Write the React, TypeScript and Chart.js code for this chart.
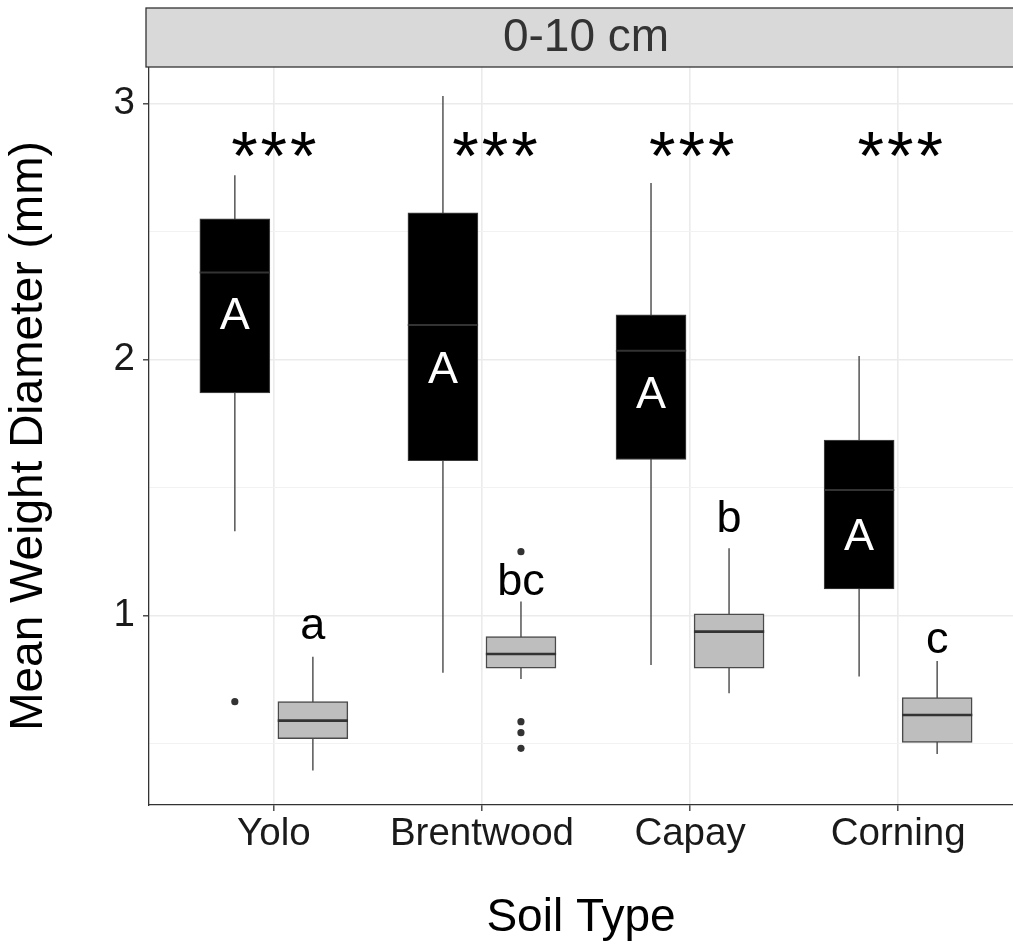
import React, { useEffect, useRef } from 'react';
import { Chart, registerables } from 'chart.js';

Chart.register(...registerables);

// ---------- data ----------
const categories = ['Yolo', 'Brentwood', 'Capay', 'Corning'];

// first group (black boxes)
const darkLow = [1.33, 0.777, 0.807, 0.762];
const darkQ1 = [1.87, 1.605, 1.61, 1.104];
const darkMedian = [2.34, 2.135, 2.035, 1.491];
const darkQ3 = [2.55, 2.573, 2.175, 1.686];
const darkHigh = [2.72, 3.03, 2.69, 2.014];
const darkOutliers = [[0.664], [], [], []];

// second group (grey boxes)
const grayLow = [0.395, 0.753, 0.697, 0.46];
const grayQ1 = [0.52, 0.795, 0.795, 0.505];
const grayMedian = [0.59, 0.85, 0.9375, 0.612];
const grayQ3 = [0.664, 0.918, 1.007, 0.68];
const grayHigh = [0.84, 1.055, 1.263, 0.823];
const grayOutliers = [[], [1.25, 0.586, 0.543, 0.482], [], []];

// text annotations (value = baseline position on y scale)
const darkLetters = ['A', 'A', 'A', 'A'];
const darkLetterY = [2.12, 1.909, 1.811, 1.257];
const grayLetters = ['a', 'bc', 'b', 'c'];
const grayLetterY = [0.909, 1.081, 1.328, 0.854];
const starLabels = ['***', '***', '***', '***'];
const starX = [1.0, 2.063, 3.008, 4.01];
const starY = [2.706, 2.706, 2.706, 2.706];

const yGridValues = [0.5, 1, 1.5, 2, 2.5, 3];
const stripLabel = '0-10 cm';
const xTitle = 'Soil Type';
const yTitle = 'Mean Weight Diameter (mm)';

// ---------- layout / style constants ----------
const W = 1013;
const H = 946;
const DODGE = 0.1875;
const HALF_BOX = 0.16875;
const X_MIN = 0.4;
const X_MAX = 4.552;
const Y_MIN = 0.2605;
const Y_MAX = 3.143;
const FONT = "'Liberation Sans', Arial, Helvetica, sans-serif";

const darkX = categories.map((_, i) => i + 1 - DODGE);
const grayX = categories.map((_, i) => i + 1 + DODGE);

function segments(xs: number[], lo: number[], hi: number[]) {
  const pts: { x: number; y: number | null }[] = [];
  xs.forEach((x, i) => {
    pts.push({ x, y: lo[i] }, { x, y: hi[i] }, { x, y: null });
  });
  return pts;
}

function medianSegs(xs: number[], med: number[]) {
  const pts: { x: number; y: number | null }[] = [];
  xs.forEach((x, i) => {
    pts.push({ x: x - HALF_BOX, y: med[i] }, { x: x + HALF_BOX, y: med[i] }, { x, y: null });
  });
  return pts;
}

function outlierPts(xs: number[], outs: number[][]) {
  const pts: { x: number; y: number }[] = [];
  xs.forEach((x, i) => outs[i].forEach((v) => pts.push({ x, y: v })));
  return pts;
}

const stripPlugin = {
  id: 'stripAndText',
  afterDraw(chart: any) {
    const { ctx, chartArea, scales } = chart;
    const xs = scales.x;
    const ys = scales.y;
    ctx.save();
    // strip
    const top = 8;
    const bottom = chartArea.top;
    const left = chartArea.left - 3;
    ctx.fillStyle = '#D9D9D9';
    ctx.fillRect(left, top, W + 10 - left, bottom - top);
    ctx.strokeStyle = '#333333';
    ctx.lineWidth = 1.3;
    ctx.strokeRect(left, top, W + 10 - left, bottom - top);
    ctx.fillStyle = '#333333';
    ctx.font = `46px ${FONT}`;
    ctx.textAlign = 'center';
    ctx.textBaseline = 'middle';
    ctx.fillText(stripLabel, xs.getPixelForValue((X_MIN + 4.6) / 2), (top + bottom) / 2 + 1);

    // letters in black boxes
    ctx.textBaseline = 'alphabetic';
    ctx.font = `45px ${FONT}`;
    ctx.fillStyle = '#FFFFFF';
    darkLetters.forEach((t, i) => {
      ctx.fillText(t, xs.getPixelForValue(darkX[i]), ys.getPixelForValue(darkLetterY[i]));
    });
    ctx.fillStyle = '#000000';
    grayLetters.forEach((t, i) => {
      ctx.fillText(t, xs.getPixelForValue(grayX[i]), ys.getPixelForValue(grayLetterY[i]));
    });
    ctx.font = `68px ${FONT}`;
    (ctx as any).letterSpacing = '3px';
    starLabels.forEach((t, i) => {
      ctx.fillText(t, xs.getPixelForValue(starX[i]) + 1.5, ys.getPixelForValue(starY[i]));
    });
    (ctx as any).letterSpacing = '0px';
    ctx.restore();
  },
};

export default function App() {
  const ref = useRef<HTMLCanvasElement | null>(null);

  useEffect(() => {
    document.body.style.margin = '0';
    const canvas = ref.current;
    if (!canvas) return;
    const chart = new Chart(canvas, {
      data: {
        datasets: [
          {
            type: 'line',
            label: 'dark whiskers',
            data: segments(darkX, darkLow, darkHigh),
            borderColor: '#555555',
            borderWidth: 1.5,
            pointRadius: 0,
            spanGaps: false,
            order: 10,
          },
          {
            type: 'line',
            label: 'gray whiskers',
            data: segments(grayX, grayLow, grayHigh),
            borderColor: '#555555',
            borderWidth: 1.5,
            pointRadius: 0,
            spanGaps: false,
            order: 10,
          },
          {
            type: 'bar',
            label: 'dark boxes',
            data: darkX.map((x, i) => ({ x, y: [darkQ1[i], darkQ3[i]] })) as any,
            backgroundColor: '#000000',
            borderColor: '#3a3a3a',
            borderWidth: 1.2,
            borderSkipped: false,
            barThickness: 70,
            grouped: false,
            order: 5,
          },
          {
            type: 'bar',
            label: 'gray boxes',
            data: grayX.map((x, i) => ({ x, y: [grayQ1[i], grayQ3[i]] })) as any,
            backgroundColor: '#BEBEBE',
            borderColor: '#4a4a4a',
            borderWidth: 1.5,
            borderSkipped: false,
            barThickness: 70,
            grouped: false,
            order: 5,
          },
          {
            type: 'line',
            label: 'dark medians',
            data: medianSegs(darkX, darkMedian),
            borderColor: '#333333',
            borderWidth: 2,
            pointRadius: 0,
            spanGaps: false,
            order: 2,
          },
          {
            type: 'line',
            label: 'gray medians',
            data: medianSegs(grayX, grayMedian),
            borderColor: '#333333',
            borderWidth: 2.6,
            pointRadius: 0,
            spanGaps: false,
            order: 2,
          },
          {
            type: 'scatter',
            label: 'outliers',
            data: [...outlierPts(darkX, darkOutliers), ...outlierPts(grayX, grayOutliers)],
            backgroundColor: '#333333',
            borderWidth: 0,
            pointRadius: 3.6,
            order: 0,
          },
        ] as any,
      },
      options: {
        animation: false,
        responsive: false,
        devicePixelRatio: 1,
        layout: { autoPadding: false, padding: { top: 67, left: 0, right: 0, bottom: 0 } },
        plugins: {
          legend: { display: false },
          tooltip: { enabled: false },
        },
        scales: {
          x: {
            type: 'linear',
            offset: false,
            min: X_MIN,
            max: X_MAX,
            afterBuildTicks: (axis: any) => {
              axis.ticks = categories.map((_, i) => ({ value: i + 1 }));
            },
            afterFit: (axis: any) => {
              axis.height = H - 805;
            },
            ticks: {
              callback: (v: any) => categories[Number(v) - 1] ?? '',
              autoSkip: false,
              maxRotation: 0,
              color: '#1A1A1A',
              padding: 4,
              font: { family: FONT, size: 38.5, lineHeight: 1 },
            },
            grid: {
              offset: false,
              color: '#EBEBEB',
              lineWidth: 1.6,
              tickLength: 6,
              tickColor: '#333333',
              tickWidth: 1.3,
            },
            border: { display: true, color: '#333333', width: 1.3 },
            title: {
              display: true,
              text: xTitle,
              color: '#000000',
              font: { family: FONT, size: 46, lineHeight: 1.2 },
              padding: { top: 0, bottom: 0 },
            },
          },
          y: {
            type: 'linear',
            min: Y_MIN,
            max: Y_MAX,
            afterBuildTicks: (axis: any) => {
              axis.ticks = yGridValues.map((v) => ({ value: v }));
            },
            afterFit: (axis: any) => {
              axis.width = 149;
            },
            ticks: {
              callback: (v: any) => (Number.isInteger(Number(v)) ? String(v) : ''),
              color: '#1A1A1A',
              padding: 8,
              font: { family: FONT, size: 38.5, lineHeight: 1 },
            },
            grid: {
              color: (c: any) => (Number.isInteger(c.tick?.value) ? '#EBEBEB' : '#F2F2F2'),
              lineWidth: (c: any) => (Number.isInteger(c.tick?.value) ? 1.6 : 1),
              tickLength: 6,
              tickColor: (c: any) => (Number.isInteger(c.tick?.value) ? '#333333' : 'rgba(0,0,0,0)'),
              tickWidth: 1.3,
            },
            border: { display: true, color: '#333333', width: 1.3 },
            title: {
              display: true,
              text: yTitle,
              color: '#000000',
              font: { family: FONT, size: 46, lineHeight: 1.2 },
              padding: { top: 2, bottom: 0 },
            },
          },
        },
      } as any,
      plugins: [stripPlugin],
    });
    return () => chart.destroy();
  }, []);

  return (
    <div style={{ width: W, height: H, background: '#FFFFFF' }}>
      <canvas ref={ref} width={W} height={H} style={{ display: 'block', width: W, height: H }} />
    </div>
  );
}
